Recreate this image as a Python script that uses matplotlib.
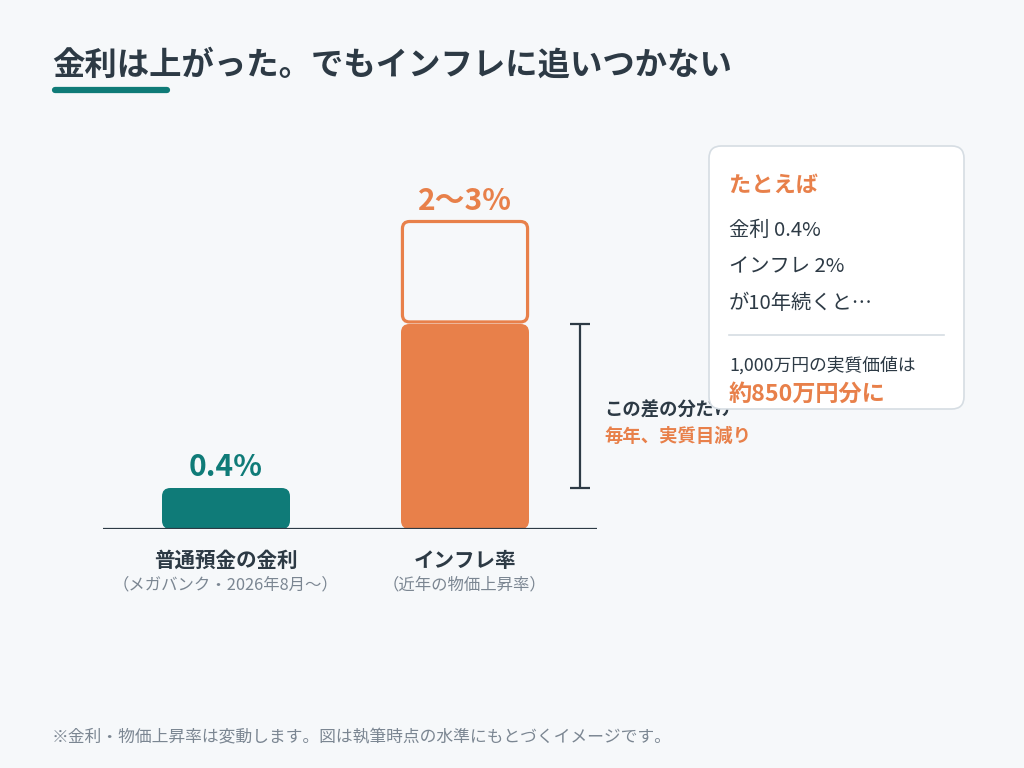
import matplotlib
matplotlib.use("Agg")
import matplotlib.pyplot as plt
from matplotlib.patches import FancyBboxPatch
from matplotlib.lines import Line2D

plt.rcParams["font.family"] = ["Noto Sans CJK JP", "DejaVu Sans"]

# -- data --
categories = ["普通預金の金利", "インフレ率"]
subtitles = ["（メガバンク・2026年8月〜）", "（近年の物価上昇率）"]
rates = [0.4, 2.0]          # filled bar (%)
rate_upper = [None, 3.0]    # upper end of range (%)
value_labels = ["0.4%", "2〜3%"]

card_lines = ["金利 0.4%", "インフレ 2%", "が10年続くと…"]
card_note = "1,000万円の実質価値は"
card_result = "約850万円分に"

BG = "#f6f8fa"
TEAL = "#0f7b78"
ORANGE = "#e8804a"
DARK = "#2d3a45"
GRAY = "#7b8692"

W, H = 1024, 768
fig = plt.figure(figsize=(W / 100, H / 100), dpi=100, facecolor=BG)


def px(x, y):
    return x / W, 1 - y / H


# axes: baseline at y=529px, x from 103 to 597px
y_top = 130
ax = fig.add_axes([103 / W, (H - 529) / H, (597 - 103) / W, (529 - y_top) / H])
ax.set_facecolor("none")
xmin, xmax = (103 - 226) / 239, (597 - 226) / 239
ymax = (529 - y_top) / 102.5
ax.set_xlim(xmin, xmax)
ax.set_ylim(0, ymax)
ax.axis("off")

bar_w = 128 / 239
aspect = 239 / 102.5
colors = [TEAL, ORANGE]
for i, (v, up) in enumerate(zip(rates, rate_upper)):
    if up is not None:
        ax.add_patch(FancyBboxPatch((i - bar_w / 2 + 0.006, v + 0.02), bar_w - 0.012, up - v - 0.02,
                                    boxstyle="round,pad=0,rounding_size=0.03",
                                    mutation_aspect=aspect, fc=BG, ec=ORANGE, lw=2.3, zorder=2))
    ax.add_patch(FancyBboxPatch((i - bar_w / 2, 0), bar_w, v,
                                boxstyle="round,pad=0,rounding_size=0.035",
                                mutation_aspect=aspect, fc=colors[i], ec="none", zorder=2))
    top = up if up is not None else v
    ax.annotate(value_labels[i], (i, top), xytext=(0, 15), textcoords="offset points",
                ha="center", va="center", fontsize=21.5, fontweight="bold", color=colors[i])
    ax.annotate(categories[i], (i, 0), xytext=(0, -22.5), textcoords="offset points",
                ha="center", va="center", fontsize=14.8, fontweight="bold", color=DARK,
                annotation_clip=False)
    ax.annotate(subtitles[i], (i, 0), xytext=(0, -40.5), textcoords="offset points",
                ha="center", va="center", fontsize=11.8, color=GRAY, annotation_clip=False)

ax.axhline(0, color=DARK, lw=1.6, zorder=3)

# gap bracket between interest and inflation
xb = (580 - 226) / 239
cap = 10 / 239
ax.vlines(xb, rates[0], rates[1], color=DARK, lw=1.6)
ax.hlines([rates[0], rates[1]], xb - cap, xb + cap, color=DARK, lw=1.6)

fig.text(*px(604, 410), "この差の分だけ", ha="left", va="center", fontsize=13.2,
         fontweight="bold", color=DARK, zorder=3)
fig.text(*px(604, 436), "毎年、実質目減り", ha="left", va="center", fontsize=13.2,
         fontweight="bold", color=ORANGE, zorder=3)

# title
fig.text(*px(52, 65), "金利は上がった。でもインフレに追いつかない", ha="left", va="center",
         fontsize=23.3, fontweight="bold", color=DARK)
fig.add_artist(Line2D([55 / W, 167 / W], [1 - 90 / H, 1 - 90 / H], color=TEAL, lw=4.5,
                      solid_capstyle="round"))

# card
card = FancyBboxPatch(px(709, 409), (964 - 709) / W, (409 - 146) / H,
                      boxstyle="round,pad=0,rounding_size=0.012", mutation_aspect=W / H,
                      transform=fig.transFigure, fc="white", ec="#d6dde3", lw=1.2, zorder=4)
fig.add_artist(card)
fig.text(*px(729, 185), "たとえば", ha="left", va="center", fontsize=16,
         fontweight="bold", color=ORANGE, zorder=5)
for k, line in enumerate(card_lines):
    fig.text(*px(729, 230 + 37 * k), line, ha="left", va="center", fontsize=14.6,
             color=DARK, zorder=5)
fig.add_artist(Line2D([729 / W, 944 / W], [1 - 335 / H, 1 - 335 / H], color="#d6dde3",
                      lw=1.2, zorder=5))
fig.text(*px(729, 365), card_note, ha="left", va="center", fontsize=12.8, color=DARK, zorder=5)
fig.text(*px(729, 394), card_result, ha="left", va="center", fontsize=16.7,
         fontweight="bold", color=ORANGE, zorder=5)

# footnote
fig.text(*px(52, 738), "※金利・物価上昇率は変動します。図は執筆時点の水準にもとづくイメージです。",
         ha="left", va="center", fontsize=12.1, color=GRAY)

fig.savefig("out.png", dpi=100, facecolor=BG)
